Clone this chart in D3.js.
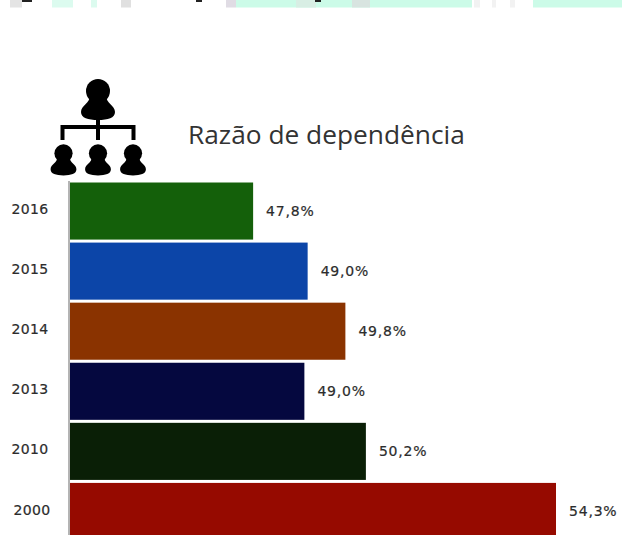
<!DOCTYPE html>
<html><head><meta charset="utf-8">
<script src="https://cdn.jsdelivr.net/npm/d3@7"></script>
<style>html,body{margin:0;padding:0;background:#fff;overflow:hidden}svg{display:block}</style>
</head><body><svg id="c" width="622" height="535"></svg>
<script>
const years = ["2016","2015","2014","2013","2010","2000"];
const values = [47.8, 48.97, 49.78, 48.9, 50.22, 54.3];
const labels = ["47,8%","49,0%","49,8%","49,0%","50,2%","54,3%"];
const colors = ["#14600a","#0c45a8","#8a3300","#05083f","#0a1f06","#960a00"];
const title = "Razão de dependência";

const svg = d3.select("#c");
const x = d3.scaleLinear().domain([43.87, 54.3]).range([70, 556]);
const y = d3.scaleBand().domain(years).range([181, 541.5]).paddingInner(0.05).paddingOuter(0.025);

// clipped fragments of the line above the chart
svg.selectAll("rect.hl").data([[236,472],[533,622]]).join("rect")
  .attr("x",d=>d[0]).attr("y",0).attr("width",d=>d[1]-d[0]).attr("height",7.5).attr("fill","#ccfbe8");
svg.selectAll("rect.hl2").data([[10,12,"#e4e4e4"],[52,21,"#dcfbef"],[91,6,"#dcfbef"],[121,10,"#e0e0e0"],[226,10,"#e0dce4"],[474,6,"#f2f2f2"],[492,4,"#f2f2f2"],[510,5,"#f2f2f2"],[296,20,"#d8eee4"],[352,18,"#d8e4e0"]]).join("rect")
  .attr("x",d=>d[0]).attr("y",0).attr("width",d=>d[1]).attr("height",7.5).attr("fill",d=>d[2]);
svg.selectAll("rect.ink").data([[22,10],[196,6],[315,6]]).join("rect")
  .attr("x",d=>d[0]).attr("y",0).attr("width",d=>d[1]).attr("height",2).attr("fill","#222");

// axis line
svg.append("line").attr("x1",69).attr("x2",69).attr("y1",181).attr("y2",535).attr("stroke","#b4b4b4").attr("stroke-width",2);

svg.selectAll("rect.bar").data(years).join("rect").attr("class","bar")
  .attr("x",x(43.87)).attr("y",d=>y(d)).attr("width",(d,i)=>x(values[i])-x(43.87)).attr("height",y.bandwidth())
  .attr("fill",(d,i)=>colors[i]);

const small = s => s.attr("font-family","'DejaVu Sans',Verdana,sans-serif").attr("font-size",14)
  .attr("fill","#2c2c2c").attr("stroke","#2c2c2c").attr("stroke-width",0.2)
  .attr("dominant-baseline","middle");

svg.selectAll("text.yr").data(years).join("text").attr("class","yr")
  .attr("x",(d,i)=>i===5?32:30).attr("y",d=>y(d)+y.bandwidth()/2+(d==="2000"?0:-1)).attr("text-anchor","middle")
  .attr("letter-spacing",0.4).text(d=>d).call(small);

svg.selectAll("text.val").data(labels).join("text").attr("class","val")
  .attr("x",(d,i)=>x(values[i])+13).attr("y",(d,i)=>y(years[i])+y.bandwidth()/2+0.5)
  .attr("letter-spacing",0.8).text(d=>d).call(small);

svg.append("text").attr("x",188).attr("y",144).attr("font-family","'Open Sans','DejaVu Sans',sans-serif").attr("font-size",26.3).attr("fill","#333").text(title);

// people hierarchy icon
function person(cx, top, s){
  const g = svg.append("g").attr("transform",`translate(${cx},${top}) scale(${s})`).attr("fill","#000");
  g.append("ellipse").attr("cx",0).attr("cy",11).attr("rx",12).attr("ry",12);
  g.append("path").attr("d","M-8,15 C-8,24 -17,25 -17,32 C-17,38 -10,40 0,40 C10,40 17,38 17,32 C17,25 8,24 8,15 Z");
}
person(98,80,1);
[63.5,98,133].forEach(c=>person(c,145,0.76));
svg.append("path").attr("d","M62.5,140 V127 H133.5 V140 M98,119 V140").attr("fill","none").attr("stroke","#000").attr("stroke-width",4);
</script></body></html>
